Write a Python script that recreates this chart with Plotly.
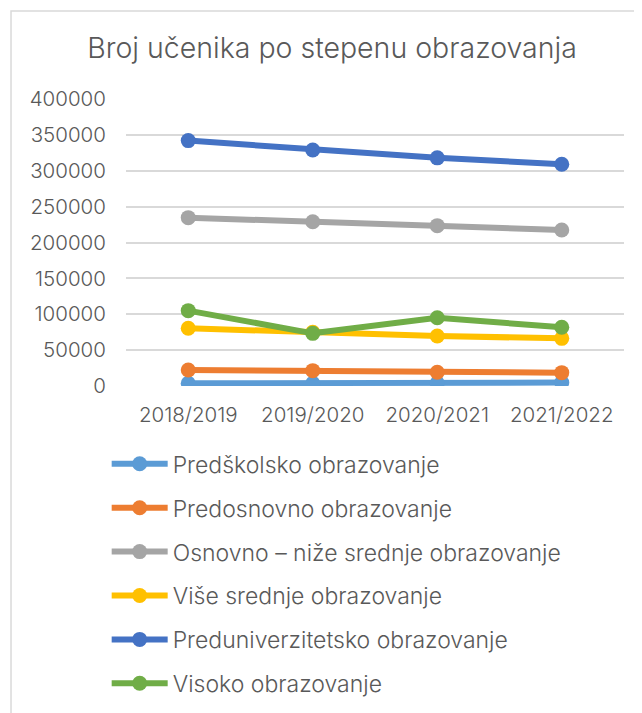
import plotly.graph_objects as go

years = ['2018/2019', '2019/2020', '2020/2021', '2021/2022']

predskolsko = [3800, 3900, 4000, 4800]
predosnovno = [22300, 21400, 19100, 18600]
osnovno = [234600, 229000, 223500, 217400]
vise_srednje = [80400, 74800, 69700, 66400]
preuniverzitetsko = [342000, 329000, 318000, 309000]
visoko = [105000, 73400, 95200, 81800]

series = [
    ('Predškolsko obrazovanje', predskolsko, '#5B9BD5'),
    ('Predosnovno obrazovanje', predosnovno, '#ED7D31'),
    ('Osnovno – niže srednje obrazovanje', osnovno, '#A5A5A5'),
    ('Više srednje obrazovanje', vise_srednje, '#FFC000'),
    ('Preduniverzitetsko obrazovanje', preuniverzitetsko, '#4472C4'),
    ('Visoko obrazovanje', visoko, '#70AD47'),
]

font_name = 'Inter'
text_color = '#595959'

# the page body has an 8px margin, so the figure is 8px smaller than the window
fig = go.Figure(layout=dict(width=634, height=705))

for i, (name, vals, color) in enumerate(series):
    fig.add_trace(
        go.Scatter(
            x=years,
            y=vals,
            mode='lines+markers',
            name=name,
            legendgroup=str(i),
            line=dict(color=color, width=6),
            marker=dict(color=color, size=15),
        )
    )

# light frame around the chart area (Excel chart border)
fig.add_shape(
    type='rect', xref='paper', yref='paper',
    x0=-0.2309, x1=1.2, y0=-1.2, y1=1.3066,
    line=dict(color='#D9D9D9', width=1.5),
    fillcolor='rgba(0,0,0,0)', layer='below',
)

fig.update_layout(
    title=dict(
        text='Broj učenika po stepenu obrazovanja',
        x=324 / 634, xref='container', xanchor='center',
        y=0.943, yref='container', yanchor='middle',
        font=dict(family=font_name, size=28.5, color=text_color, weight=300),
    ),
    font=dict(family=font_name, color=text_color),
    xaxis=dict(
        range=[-0.5, 3.5],
        showgrid=False,
        showline=False,
        zeroline=False,
        ticks='outside',
        ticklen=10,
        tickcolor='rgba(0,0,0,0)',
        tickfont=dict(size=20.5, color=text_color, weight=300),
    ),
    yaxis=dict(
        range=[0, 400000],
        dtick=50000,
        tickformat='d',
        showgrid=True,
        gridcolor='#D9D9D9',
        gridwidth=1.8,
        zeroline=False,
        showline=False,
        ticks='outside',
        ticklen=15,
        tickcolor='rgba(0,0,0,0)',
        tickfont=dict(size=20.5, color=text_color, weight=300),
    ),
    legend=dict(
        x=-0.0388, xanchor='left',
        y=0.3839, yref='container', yanchor='top',
        tracegroupgap=11,
        itemwidth=56,
        font=dict(family=font_name, size=23, color=text_color, weight=300),
    ),
    margin=dict(l=118, r=18, t=91, b=327),
    plot_bgcolor='white',
    paper_bgcolor='white',
    showlegend=True,
)

fig.write_html('out.html')
